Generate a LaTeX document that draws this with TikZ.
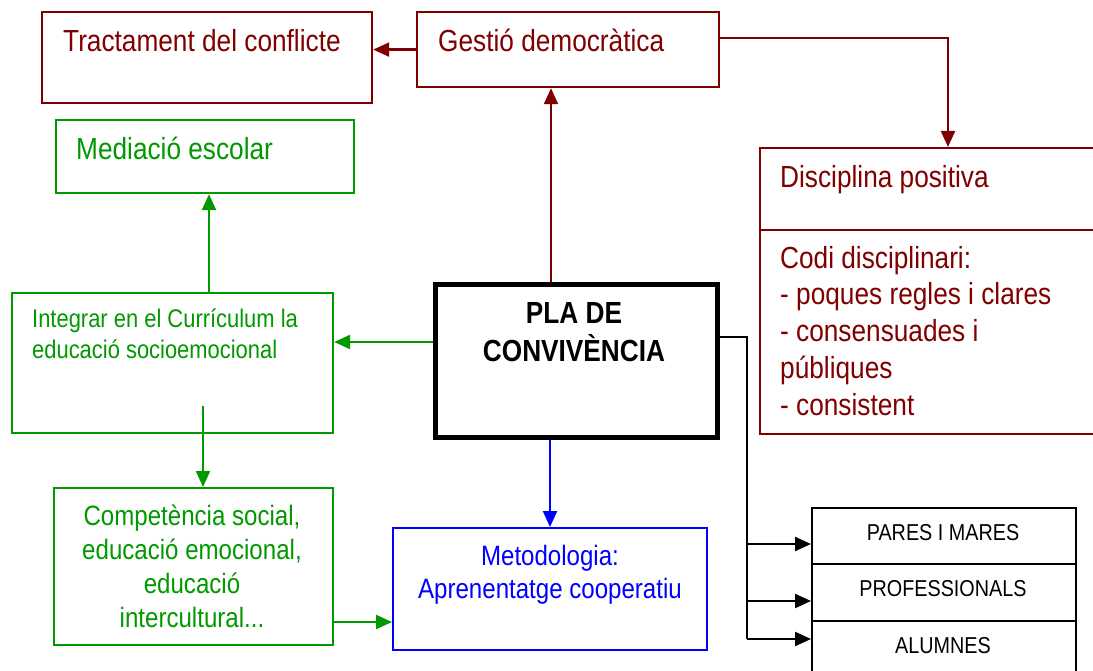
\documentclass[tikz,border=0pt]{standalone}
\usepackage{fontspec}
\setmainfont{Liberation Sans}[FakeStretch=0.86]
\usetikzlibrary{arrows.meta,calc}
\definecolor{dred}{RGB}{128,0,0}
\definecolor{dgreen}{RGB}{0,153,0}
\definecolor{dblue}{RGB}{0,0,255}
\newcommand\fsz[2]{\fontsize{#1pt}{#2pt}\selectfont}
\begin{document}
\begin{tikzpicture}[x=1pt,y=-1pt,
  box/.style={draw, line width=2.2pt, inner sep=0pt, anchor=north west},
  tip/.style={-{Triangle[length=16pt,width=14pt]}},
  conn/.style={line width=2.2pt, tip},
  txt/.style={inner sep=0pt}]
\useasboundingbox[fill=white] (0,0) rectangle (1093,671);

% ---- boxes ----
\node[box, dred, minimum width=330pt, minimum height=91pt] (tract) at (41,11) {};
\node[box, dred, minimum width=302pt, minimum height=75pt] (gest) at (416,11) {};
\node[box, dred, minimum width=345pt, minimum height=82pt] (disc) at (759,147) {};
\node[box, dred, minimum width=345pt, minimum height=204pt] (codi) at (759,229) {};
\node[box, dgreen, minimum width=298pt, minimum height=73pt] (med) at (55,119) {};
\node[box, dgreen, minimum width=321pt, minimum height=140pt] (integ) at (11,292) {};
\node[box, dgreen, minimum width=279pt, minimum height=157pt] (comp) at (53,487) {};
\node[box, dblue, minimum width=314pt, minimum height=122pt] (meto) at (392,527) {};
\node[box, black, line width=5pt, minimum width=282pt, minimum height=153pt] (pla) at (432.5,282) {};
\node[box, black, minimum width=264pt, minimum height=56pt] (pares) at (811,507) {};
\node[box, black, minimum width=264pt, minimum height=57pt] (prof) at (811,563) {};
\node[box, black, minimum width=264pt, minimum height=70pt] (alum) at (811,620) {};

% ---- texts (multi-line nodes anchored at the last baseline) ----
\node[txt, anchor=base west, text=dred, font=\fsz{30.5}{36}] (tractT) at (63,52) {Tractament del conflicte};
\node[txt, anchor=base west, text=dred, font=\fsz{30.5}{36}] (gestT) at (438,52) {Gestió democràtica};
\node[txt, anchor=base west, text=dred, font=\fsz{30.5}{36}] (discT) at (780,188) {Disciplina positiva};
\node[txt, anchor=base west, text=dred, font=\fsz{30.5}{36.75}, align=left] (codiT) at (780,415)
  {Codi disciplinari:\\- poques regles i clares\\- consensuades i\\públiques\\- consistent};
\node[txt, anchor=base west, text=dgreen, font=\fsz{30.5}{36}] (medT) at (76,160) {Mediació escolar};
\node[txt, anchor=base west, text=dgreen, font=\fsz{25.5}{31}, align=left] (integT) at (32,358)
  {Integrar en el Currículum la\\educació socioemocional};
\node[txt, anchor=base, text=dgreen, font=\fsz{28}{34}, align=center] (compT) at (192,627)
  {Competència social,\\educació emocional,\\educació\\intercultural...};
\node[txt, anchor=base, text=dblue, font=\fsz{28}{33}, align=center] (metoT) at (550,598)
  {Metodologia:\\Aprenentatge cooperatiu};
\node[txt, anchor=base, text=black, font=\fsz{30.5}{38}\bfseries, align=center] (plaT) at (574,361)
  {PLA DE\\CONVIVÈNCIA};
\node[txt, anchor=base, font=\fsz{23}{27}] (paresT) at (943,540) {PARES I MARES};
\node[txt, anchor=base, font=\fsz{23}{27}] (profT) at (943,596) {PROFESSIONALS};
\node[txt, anchor=base, font=\fsz{23}{27}] (alumT) at (943,653) {ALUMNES};

% ---- connector helper coordinates ----
\coordinate (cUp) at (551,0);
\coordinate (cGD) at (948,38);
\coordinate (cMed) at (209,0);
\coordinate (cInt) at (0,342);
\coordinate (cCompS) at (203,406);
\coordinate (cMeto) at (0,622);
\coordinate (cBlue) at (550,0);
\coordinate (cBlk) at (747,337);
\coordinate (cB1) at (747,544);
\coordinate (cB2) at (747,601);
\coordinate (cB3) at (747,639);

% ---- connectors ----
\draw[conn, dred] (gest.west) -- (tract.east |- gest.west);
\draw[conn, dred] (pla.north -| cUp) -- (gest.south -| cUp);
\draw[conn, dred] (gest.east |- cGD) -- (cGD) -- (disc.north -| cGD);
\draw[conn, dgreen] (integ.north -| cMed) -- (med.south -| cMed);
\draw[conn, dgreen] (pla.west |- cInt) -- (integ.east |- cInt);
\draw[conn, dgreen] (cCompS) -- (comp.north -| cCompS);
\draw[conn, dgreen] (comp.east |- cMeto) -- (meto.west |- cMeto);
\draw[conn, dblue] (pla.south -| cBlue) -- (meto.north -| cBlue);
\draw[line width=2.2pt] (pla.east |- cBlk) -- (cBlk) -- (cB3);
\draw[conn] (cB1) -- (pares.west |- cB1);
\draw[conn] (cB2) -- (prof.west |- cB2);
\draw[conn] (cB3) -- (alum.west |- cB3);
\end{tikzpicture}
\end{document}
